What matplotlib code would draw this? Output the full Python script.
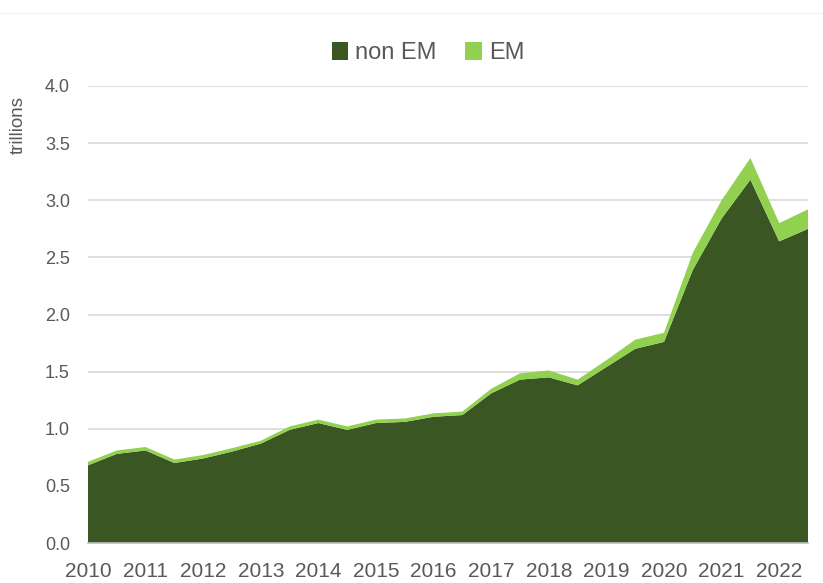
import matplotlib
matplotlib.use("Agg")
import matplotlib.pyplot as plt
from matplotlib.patches import Patch
from matplotlib.lines import Line2D

plt.rcParams['font.family'] = ['Liberation Sans', 'DejaVu Sans']

# Data (semiannual, 2010 H1 .. 2022 H2), trillions
periods = [2010 + 0.5 * i for i in range(26)]
non_em = [0.68, 0.78, 0.81, 0.70, 0.74, 0.80, 0.87, 0.99, 1.05, 0.99, 1.05, 1.06, 1.105,
          1.12, 1.31, 1.43, 1.45, 1.38, 1.54, 1.70, 1.76, 2.39, 2.84, 3.18, 2.64, 2.75]
em = [0.03, 0.03, 0.03, 0.03, 0.03, 0.03, 0.025, 0.03, 0.03, 0.03, 0.03, 0.03, 0.03,
      0.03, 0.04, 0.055, 0.06, 0.05, 0.06, 0.08, 0.08, 0.15, 0.16, 0.19, 0.16, 0.17]
year_labels = [str(y) for y in range(2010, 2023)]
y_ticks = [0.0, 0.5, 1.0, 1.5, 2.0, 2.5, 3.0, 3.5, 4.0]
series_names = ['non EM', 'EM']
colors = ['#3a5723', '#92d050']
text_color = '#595959'

fig = plt.figure(figsize=(8.23, 5.83), dpi=100)
ax = fig.add_axes([88 / 823, 40 / 583, 720 / 823, 457 / 583])

ax.stackplot(periods, non_em, em, colors=colors, linewidth=0, zorder=2)

ax.set_xlim(periods[0], periods[-1])
ax.set_ylim(0, 4.0)
ax.set_yticks(y_ticks)
ax.set_yticklabels([f'{v:.1f}' for v in y_ticks])
ax.set_xticks(list(range(2010, 2023)))
ax.set_xticklabels(year_labels)
ax.grid(axis='y', color='#d9d9d9', linewidth=1.2, zorder=0)
ax.set_axisbelow(True)
for s in ['top', 'right', 'left']:
    ax.spines[s].set_visible(False)
ax.spines['bottom'].set_color('#bfbfbf')
ax.spines['bottom'].set_linewidth(1.2)
ax.spines['bottom'].set_zorder(3)
ax.tick_params(axis='both', length=0, colors=text_color)
ax.tick_params(axis='y', labelsize=13, pad=13)
ax.tick_params(axis='x', labelsize=15, pad=14)

fig.text(18 / 823, 1 - 125 / 583, 'trillions', rotation=90, ha='center', va='center',
         fontsize=13.5, color=text_color)

handles = [Patch(facecolor=c, edgecolor='none') for c in colors]
leg = fig.legend(handles, series_names, loc='center', bbox_to_anchor=(428 / 823, 1 - 53 / 583),
                 ncol=2, frameon=False, fontsize=17, handlelength=0.7, handleheight=0.8,
                 handletextpad=0.3, columnspacing=1.2)
for t in leg.get_texts():
    t.set_color(text_color)

fig.add_artist(Line2D([0, 1], [1 - 13 / 583, 1 - 13 / 583], transform=fig.transFigure,
                      color='#f2f2f2', linewidth=1))

fig.savefig('out.png', dpi=100)
